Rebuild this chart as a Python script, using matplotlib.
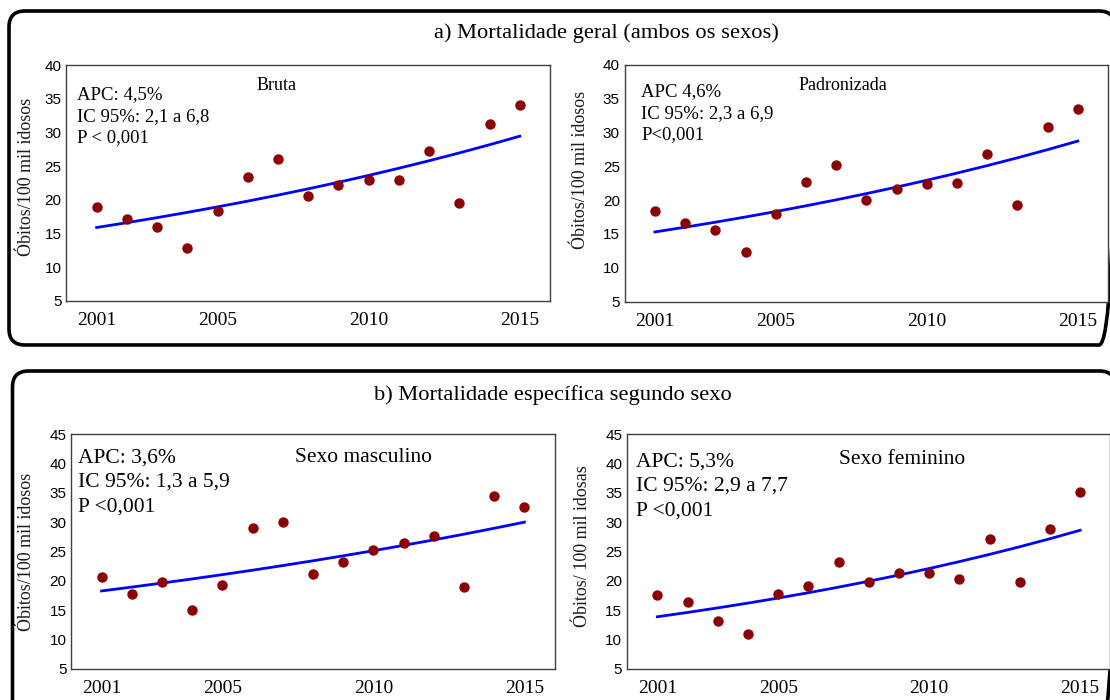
import numpy as np
import matplotlib.pyplot as plt
from matplotlib.patches import FancyBboxPatch

# Dados
anos = [2001, 2002, 2003, 2004, 2005, 2006, 2007, 2008, 2009, 2010, 2011, 2012, 2013, 2014, 2015]
bruta = [18.9, 17.2, 16.0, 12.8, 18.4, 23.4, 26.1, 20.6, 22.2, 23.0, 22.9, 27.3, 19.6, 31.2, 34.0]
padronizada = [18.4, 16.6, 15.6, 12.3, 17.9, 22.7, 25.2, 20.0, 21.6, 22.4, 22.5, 26.8, 19.3, 30.8, 33.4]
masculino = [20.6, 17.7, 19.8, 15.1, 19.3, 29.1, 30.0, 21.2, 23.3, 25.2, 26.5, 27.6, 19.0, 34.4, 32.6]
feminino = [17.6, 16.5, 13.1, 10.9, 17.8, 19.1, 23.2, 19.8, 21.3, 21.3, 20.3, 27.2, 19.9, 28.9, 35.1]

# Tendência: valor inicial (2001) e APC (%)
tend_inicio = [15.9, 15.3, 18.3, 13.9]
apc = [4.5, 4.6, 3.6, 5.3]

series = [bruta, padronizada, masculino, feminino]
subtitulos = ["Bruta", "Padronizada", "Sexo masculino", "Sexo feminino"]
caixas = ["APC: 4,5%\nIC 95%: 2,1 a 6,8\nP < 0,001",
          "APC 4,6%\nIC 95%: 2,3 a 6,9\nP<0,001",
          "APC: 3,6%\nIC 95%: 1,3 a 5,9\nP <0,001",
          "APC: 5,3%\nIC 95%: 2,9 a 7,7\nP <0,001"]
ylabels = ["Óbitos/100 mil idosos", "Óbitos/100 mil idosos",
           "Óbitos/100 mil idosos", "Óbitos/ 100 mil idosas"]
xticks = [2001, 2005, 2010, 2015]
yticks_a = [5, 10, 15, 20, 25, 30, 35, 40]
yticks_b = [5, 10, 15, 20, 25, 30, 35, 40, 45]

serif = "Liberation Serif"
sans = "Liberation Sans"

fig = plt.figure(figsize=(11.1, 7), dpi=100)

# Molduras arredondadas (em pixels)
bg = fig.add_axes([0, 0, 1, 1], zorder=0)
bg.set_xlim(0, 1110)
bg.set_ylim(700, 0)
bg.axis("off")
bg.add_patch(FancyBboxPatch((9, 11), 1106, 334, boxstyle="round,pad=0,rounding_size=16",
                            lw=2.6, ec="black", fc="none", clip_on=False))
bg.add_patch(FancyBboxPatch((12.5, 371), 1103, 360, boxstyle="round,pad=0,rounding_size=16",
                            lw=2.6, ec="black", fc="none", clip_on=False))
bg.text(606, 33, "a) Mortalidade geral (ambos os sexos)", ha="center", va="center",
        fontsize=16.2, family=serif)
bg.text(553, 395, "b) Mortalidade específica segundo sexo", ha="center", va="center",
        fontsize=16.2, family=serif)

# posições dos eixos
posicoes = [[0.0598, 0.570, 0.4357, 0.3371],
            [0.5628, 0.569, 0.4354, 0.3386],
            [0.0643, 0.0443, 0.4353, 0.3353],
            [0.5650, 0.0443, 0.4353, 0.3353]]
pos_sub = [(0.435, 0.948), (0.452, 0.948), (0.604, 0.940), (0.569, 0.933)]
pos_caixa = [(0.0215, 0.911), (0.034, 0.923), (0.0137, 0.940), (0.0176, 0.923)]
pos_ylabel = [(-0.065, 0.525), (-0.0747, 0.557), (-0.0753, 0.50), (-0.074, 0.524)]

for i in range(4):
    ax = fig.add_axes(posicoes[i], zorder=1)
    x = np.array(anos)
    tend = tend_inicio[i] * (1 + apc[i] / 100) ** (x - anos[0])
    ax.plot(x, tend, color="#0000ff", lw=2.0, zorder=2)
    ax.scatter(anos, series[i], s=56, color="#8b0000", zorder=3, linewidths=0)

    ax.set_xlim(2000, 2016)
    if i < 2:
        ax.set_ylim(5, 40)
        ax.set_yticks(yticks_a)
        tfs = 13.5
        sfs = 13
        ls = 1.36
    else:
        ax.set_ylim(5, 45)
        ax.set_yticks(yticks_b)
        tfs = 15.5
        sfs = 15.5
        ls = 1.4
    ax.set_xticks(xticks)
    ax.tick_params(axis="x", length=0, pad=8, labelsize=14)
    ax.tick_params(axis="y", length=0, pad=3.5, labelsize=11)
    for lab in ax.get_xticklabels():
        lab.set_family(serif)
    for lab in ax.get_yticklabels():
        lab.set_family(sans)
    for s in ax.spines.values():
        s.set_color("#404040")
        s.set_linewidth(1.0)

    ax.set_ylabel(ylabels[i], fontsize=13, family=serif, color="#1a1a1a")
    ax.yaxis.set_label_coords(*pos_ylabel[i])

    ax.text(pos_sub[i][0], pos_sub[i][1], subtitulos[i], transform=ax.transAxes,
            ha="center", va="top", fontsize=sfs, family=serif)
    ax.text(pos_caixa[i][0], pos_caixa[i][1], caixas[i], transform=ax.transAxes,
            ha="left", va="top", fontsize=tfs, family=serif, linespacing=ls)

fig.savefig("out.png", dpi=100)
